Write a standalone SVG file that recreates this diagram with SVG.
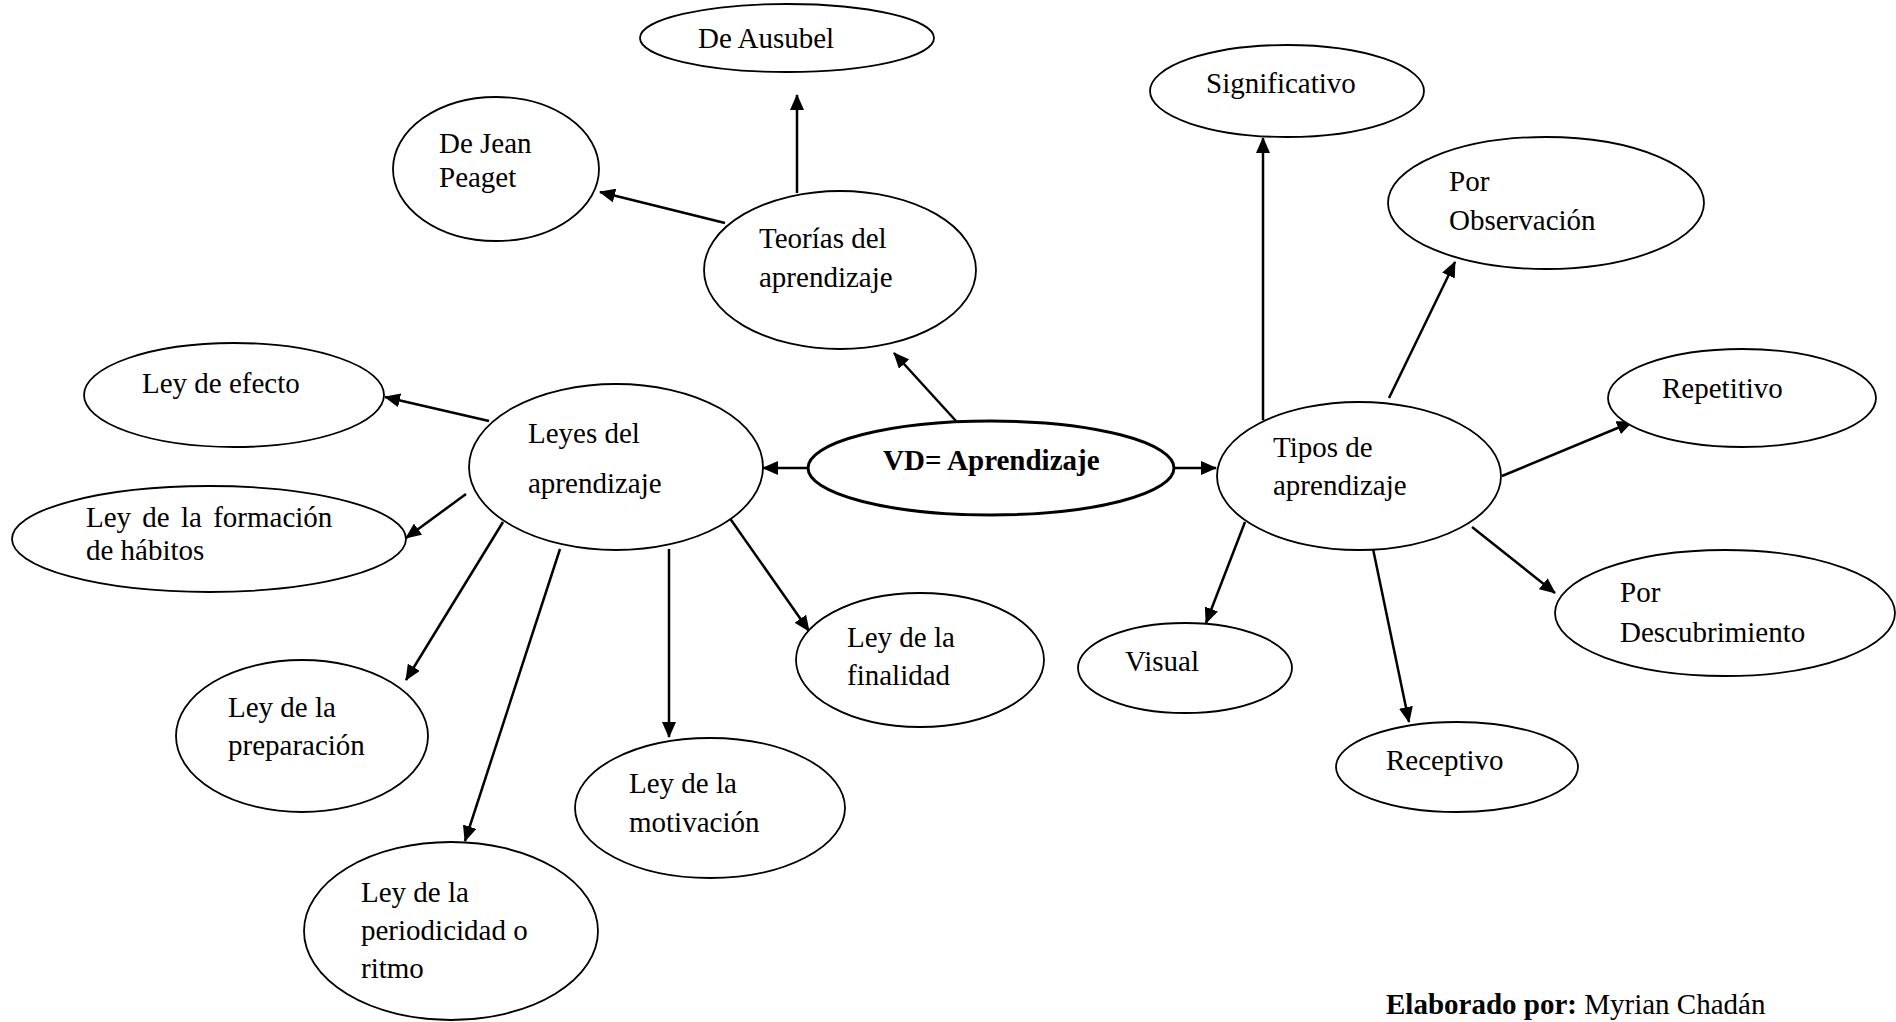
<svg xmlns="http://www.w3.org/2000/svg" width="1896" height="1022" viewBox="0 0 1896 1022">
<style>
  .n ellipse { fill: #fff; stroke: #000; stroke-width: 1.8; }
  .n text, text.t { font-family: "Liberation Serif", "Times New Roman", serif; font-size: 29px; fill: #000; }
  .b { font-weight: bold; }
  .c line { stroke: #000; stroke-width: 2.5; marker-end: url(#ah); }
</style>
<defs>
  <marker id="ah" markerUnits="userSpaceOnUse" markerWidth="16" markerHeight="14" refX="15" refY="7" orient="auto">
    <path d="M0,0 L16,7 L0,14 z" fill="#000"/>
  </marker>
</defs>
<rect width="1896" height="1022" fill="#fff"/>
<g id="connectors" class="c">
  <line x1="956" y1="421" x2="894" y2="353"/>
  <line x1="797" y1="193" x2="797" y2="95"/>
  <line x1="725" y1="223" x2="600" y2="192"/>
  <line x1="808" y1="468" x2="763" y2="468"/>
  <line x1="1174" y1="468" x2="1216" y2="468"/>
  <line x1="489" y1="421" x2="385" y2="397"/>
  <line x1="466" y1="494" x2="406" y2="538"/>
  <line x1="503" y1="522" x2="406" y2="680"/>
  <line x1="560" y1="549" x2="465" y2="841"/>
  <line x1="669" y1="549" x2="669" y2="737"/>
  <line x1="729" y1="517" x2="809" y2="631"/>
  <line x1="1263" y1="420" x2="1263" y2="138"/>
  <line x1="1389" y1="398" x2="1455" y2="262"/>
  <line x1="1502" y1="476" x2="1632" y2="422"/>
  <line x1="1472" y1="527" x2="1555" y2="593"/>
  <line x1="1372" y1="544" x2="1409" y2="722"/>
  <line x1="1245" y1="522" x2="1206" y2="623"/>
</g>
<g id="ausubel" class="n"><ellipse cx="787" cy="38" rx="147" ry="34"/><text x="698" y="48">De Ausubel</text></g>
<g id="jean" class="n"><ellipse cx="496" cy="169" rx="103" ry="72"/><text x="439" y="153">De Jean</text><text x="439" y="187">Peaget</text></g>
<g id="teorias" class="n"><ellipse cx="840" cy="270" rx="136" ry="79"/><text x="759" y="248">Teorías del</text><text x="759" y="287">aprendizaje</text></g>
<g id="efecto" class="n"><ellipse cx="234" cy="395" rx="150" ry="52"/><text x="142" y="393">Ley de efecto</text></g>
<g id="formacion" class="n"><ellipse cx="209" cy="539" rx="197" ry="53"/><text x="86" y="527" word-spacing="4">Ley de la formación</text><text x="86" y="560">de hábitos</text></g>
<g id="leyes" class="n"><ellipse cx="616" cy="467" rx="147" ry="83"/><text x="528" y="443">Leyes del</text><text x="528" y="493">aprendizaje</text></g>
<g id="vd" class="n"><ellipse cx="991" cy="468" rx="183" ry="47" style="stroke-width:3"/><text class="b" x="883" y="470">VD= Aprendizaje</text></g>
<g id="tipos" class="n"><ellipse cx="1359" cy="476" rx="142" ry="74"/><text x="1273" y="457">Tipos de</text><text x="1273" y="495">aprendizaje</text></g>
<g id="significativo" class="n"><ellipse cx="1287" cy="91" rx="137" ry="46"/><text x="1206" y="93">Significativo</text></g>
<g id="observacion" class="n"><ellipse cx="1546" cy="203" rx="158" ry="66"/><text x="1449" y="191">Por</text><text x="1449" y="230">Observación</text></g>
<g id="repetitivo" class="n"><ellipse cx="1742" cy="398" rx="134" ry="49"/><text x="1662" y="398">Repetitivo</text></g>
<g id="descubrimiento" class="n"><ellipse cx="1725" cy="613" rx="170" ry="63"/><text x="1620" y="602">Por</text><text x="1620" y="642">Descubrimiento</text></g>
<g id="receptivo" class="n"><ellipse cx="1457" cy="767" rx="121" ry="45"/><text x="1386" y="770">Receptivo</text></g>
<g id="visual" class="n"><ellipse cx="1185" cy="668" rx="107" ry="45"/><text x="1125" y="671">Visual</text></g>
<g id="finalidad" class="n"><ellipse cx="920" cy="660" rx="124" ry="67"/><text x="847" y="647">Ley de la</text><text x="847" y="685">finalidad</text></g>
<g id="motivacion" class="n"><ellipse cx="710" cy="808" rx="135" ry="70"/><text x="629" y="793">Ley de la</text><text x="629" y="832">motivación</text></g>
<g id="preparacion" class="n"><ellipse cx="302" cy="736" rx="126" ry="76"/><text x="228" y="717">Ley de la</text><text x="228" y="755">preparación</text></g>
<g id="periodicidad" class="n"><ellipse cx="451" cy="931" rx="147" ry="89"/><text x="361" y="902">Ley de la</text><text x="361" y="940">periodicidad o</text><text x="361" y="978">ritmo</text></g>
<text class="t" x="1386" y="1014"><tspan class="b">Elaborado por:</tspan> Myrian Chadán</text>
</svg>
